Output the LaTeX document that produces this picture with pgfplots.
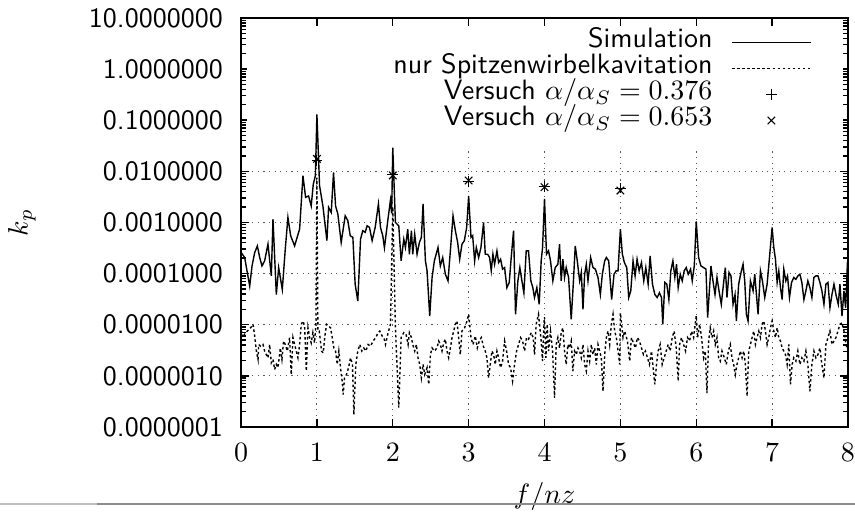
\documentclass[border=0pt]{standalone}
\usepackage{pgfplots}
\pgfplotsset{compat=1.18}
\pgfplotsset{markleg/.style={legend image code/.code={\draw[mark repeat=2,mark phase=2,##1] plot coordinates {(0pt,0pt) (14pt,0pt) (28pt,0pt)};}}}

\begin{document}
\begin{tikzpicture}
\begin{axis}[
  name=ax, at={(0,0)}, anchor=south west,
  width=216.8pt, height=146.1pt, scale only axis,
  ymode=log,
  xmin=0, xmax=8, ymin=1e-7, ymax=10,
  xtick={0,1,...,8},
  ytick={1e-7,1e-6,1e-5,1e-4,1e-3,1e-2,1e-1,1,10},
  yticklabels={0.0000001,0.0000010,0.0000100,0.0001000,0.0010000,0.0100000,0.1000000,1.0000000,10.0000000},
  yticklabel style={font=\sffamily, xshift=-3pt},
  xticklabel style={yshift=-2.5pt},
  tick align=inside,
  major tick length=3pt, minor tick length=1.8pt,
  xtick pos=both, ytick pos=both,
  grid=major,
  major grid style={black!65, line width=0.35pt, dash pattern=on 0.4pt off 1.6pt},
  axis line style={line width=0.7pt},
  every tick/.style={black, line width=0.5pt},
  xlabel={$f/nz$}, ylabel={$k_p$},
  xlabel style={at={(axis description cs:0.5,-0.171)}, anchor=center},
  ylabel style={at={(axis description cs:-0.361,0.5)}, anchor=center},
  legend cell align=right,
  legend plot pos=right,
  legend style={at={(rel axis cs:1,1)}, anchor=north east,
    xshift=-12.9pt, yshift=-3.9pt, draw=none, fill=none,
    inner sep=0pt, row sep=0pt, column sep=6.8pt, font=\sffamily,
    nodes={inner sep=0pt, text height=6.6pt, text depth=2.7pt}},
  legend image code/.code={\draw[#1] (0pt,0pt) -- (28pt,0pt);},
]
% gnuplot key hides the grid behind it
\fill[white] (axis cs:0.08,0.03) rectangle (axis cs:7.93,6.5);

\addplot[black, line width=0.5pt] coordinates {
(0.000,2.6e-4) (0.048,2.06e-4) (0.080,1.1e-4) (0.114,5.7e-5) (0.145,1.41e-4) (0.180,2.58e-4)
(0.215,3.48e-4) (0.246,2.06e-4) (0.276,1.41e-4) (0.311,1.77e-4) (0.355,3.76e-4) (0.399,9.0e-5)
(0.421,1.16e-3) (0.465,3.9e-5) (0.496,1.31e-4) (0.544,4.9e-5) (0.583,3.0e-4) (0.618,1.25e-3)
(0.654,5.5e-4) (0.706,3.48e-4) (0.772,7.4e-4) (0.816,8.2e-3) (0.851,3.1e-3) (0.890,3.3e-3)
(0.925,2.1e-3) (0.952,5.6e-3) (0.980,8.2e-3) (1.000,0.13) (1.035,5.2e-3) (1.079,2.1e-3)
(1.132,4.4e-4) (1.154,1.97e-3) (1.189,1.57e-3) (1.219,9.5e-3) (1.246,2.1e-3) (1.276,1.46e-3)
(1.320,4.06e-4) (1.373,1.35e-3) (1.408,1.08e-3) (1.439,5.5e-4) (1.474,5.1e-4) (1.504,6.2e-5)
(1.539,2.9e-5) (1.575,4.7e-4) (1.605,6.9e-4) (1.636,6.4e-4) (1.662,8.6e-4) (1.693,8.0e-4)
(1.728,4.4e-4) (1.768,8.0e-4) (1.811,2.3e-3) (1.838,8.0e-4) (1.868,5.5e-4) (1.890,3.2e-4)
(1.934,1.08e-3) (1.969,2.7e-3) (1.985,1.5e-3) (2.000,0.029) (2.035,1.0e-3) (2.079,8.6e-4)
(2.110,1.77e-4) (2.145,4.7e-4) (2.167,3.24e-4) (2.197,7.4e-4) (2.219,2.39e-4) (2.246,6.9e-4)
(2.263,2.39e-4) (2.289,5.9e-4) (2.320,2.39e-4) (2.351,4.06e-4) (2.377,5.1e-4) (2.399,2.3e-3)
(2.430,1.77e-4) (2.452,1.13e-4) (2.487,1.48e-5) (2.518,8.4e-5) (2.548,1.77e-4) (2.596,3.24e-4)
(2.627,1.41e-4) (2.658,2.06e-4) (2.693,9.7e-5) (2.728,7.2e-5) (2.759,2.78e-4) (2.794,1.35e-3)
(2.825,6.9e-4) (2.855,4.06e-4) (2.882,1.91e-4) (2.912,3.76e-4) (2.943,4.4e-4) (2.974,8.0e-4)
(3.000,3.3e-3) (3.031,5.1e-4) (3.053,5.5e-4) (3.079,1.77e-4) (3.101,3.24e-4) (3.132,2.06e-4)
(3.162,3.24e-4) (3.197,1.0e-3) (3.219,2.39e-4) (3.250,2.39e-4) (3.276,2.06e-4) (3.298,1.13e-4)
(3.320,2.39e-4) (3.342,1.52e-4) (3.373,2.78e-4) (3.395,1.64e-4) (3.421,1.91e-4) (3.447,1.22e-4)
(3.474,1.31e-4) (3.504,5.3e-5) (3.535,6.7e-5) (3.561,2.06e-4) (3.592,6.9e-4) (3.618,1.6e-5)
(3.649,7.2e-5) (3.675,1.31e-4) (3.702,7.2e-5) (3.728,4.2e-5) (3.759,2.78e-4) (3.789,2.78e-4)
(3.820,7.2e-5) (3.846,5.3e-5) (3.868,3.4e-5) (3.899,5.3e-5) (3.930,2.5e-5) (3.956,1.77e-4)
(3.974,3.2e-4) (4.000,2.9e-3) (4.026,2.39e-4) (4.053,2.78e-4) (4.079,1.77e-4) (4.110,7.2e-5)
(4.141,1.31e-4) (4.176,1.52e-4) (4.198,3.76e-4) (4.220,7.2e-5) (4.242,1.91e-4) (4.264,8.4e-5)
(4.286,1.31e-4) (4.317,8.4e-5) (4.352,1.27e-5) (4.379,6.2e-5) (4.405,3.48e-4) (4.432,1.77e-4)
(4.463,7.2e-5) (4.485,1.05e-4) (4.507,2.0e-5) (4.529,9.7e-5) (4.551,1.52e-4) (4.573,7.2e-5)
(4.608,2.06e-4) (4.639,1.31e-4) (4.670,1.22e-4) (4.705,8.4e-5) (4.736,3.9e-5) (4.762,9.7e-5)
(4.793,1.77e-4) (4.815,2.06e-4) (4.846,1.77e-4) (4.885,3.1e-5) (4.916,9.7e-5) (4.943,1.13e-4)
(4.969,1.13e-4) (5.000,7.4e-4) (5.026,2.39e-4) (5.053,1.64e-4) (5.084,1.31e-4) (5.110,3.4e-5)
(5.137,4.6e-5) (5.167,1.77e-4) (5.194,9.0e-5) (5.220,1.91e-4) (5.247,1.13e-4) (5.278,1.64e-4)
(5.308,7.2e-5) (5.335,1.31e-4) (5.366,6.2e-5) (5.392,2.22e-4) (5.423,6.2e-5) (5.454,3.9e-5)
(5.485,3.4e-5) (5.515,4.2e-5) (5.542,3.4e-5) (5.559,1.02e-5) (5.586,6.7e-5) (5.612,6.2e-5)
(5.639,3.1e-5) (5.665,1.13e-4) (5.692,1.77e-4) (5.718,8.4e-5) (5.740,1.52e-4) (5.762,5.3e-5)
(5.789,9.7e-5) (5.815,7.2e-5) (5.841,1.13e-4) (5.868,1.31e-4) (5.894,9.7e-5) (5.925,1.22e-4)
(5.947,7.2e-5) (5.974,1.41e-4) (6.000,1.05e-3) (6.031,2.06e-4) (6.062,1.41e-4) (6.097,1.31e-4)
(6.128,1.22e-4) (6.150,1.37e-5) (6.194,1.41e-4) (6.220,7.2e-5) (6.247,3.9e-5) (6.273,8.4e-5)
(6.300,4.6e-5) (6.330,2.5e-5) (6.361,6.7e-5) (6.383,1.31e-4) (6.405,3.4e-5) (6.432,1.05e-4)
(6.458,9.0e-5) (6.485,2.5e-5) (6.511,3.9e-5) (6.529,1.18e-5) (6.559,6.2e-5) (6.590,1.05e-4)
(6.617,1.52e-4) (6.639,7.2e-5) (6.661,1.6e-5) (6.683,1.18e-5) (6.714,7.2e-5) (6.749,4.6e-5)
(6.771,9.7e-5) (6.793,3.9e-5) (6.815,1.6e-5) (6.846,1.13e-4) (6.872,7.2e-5) (6.903,3.4e-5)
(6.934,6.2e-5) (6.969,2.39e-4) (7.000,8.0e-4) (7.022,3.24e-4) (7.044,1.91e-4) (7.066,6.7e-5)
(7.088,1.13e-4) (7.110,5.3e-5) (7.132,3.1e-5) (7.154,1.22e-4) (7.181,7.2e-5) (7.203,9.0e-5)
(7.229,3.4e-5) (7.256,6.7e-5) (7.286,8.4e-5) (7.313,7.7e-5) (7.339,9.0e-5) (7.366,9.7e-5)
(7.392,6.7e-5) (7.419,3.1e-5) (7.445,4.6e-5) (7.471,7.2e-5) (7.498,5.3e-5) (7.524,3.4e-5)
(7.551,8.4e-5) (7.577,9.0e-5) (7.604,9.0e-5) (7.630,6.7e-5) (7.656,4.6e-5) (7.683,2.5e-5)
(7.709,6.2e-5) (7.736,6.7e-5) (7.762,2.15e-5) (7.789,3.9e-5) (7.815,6.2e-5) (7.846,3.6e-5)
(7.872,2.5e-5) (7.894,6.2e-5) (7.921,1.48e-5) (7.947,4.6e-5) (7.969,2.15e-5) (7.991,1.41e-4)
(8.000,1.3e-4)
};
\addlegendentry{Simulation}

\addplot[black, line width=0.5pt, dash pattern=on 0.9pt off 0.9pt] coordinates {
(0.000,8.0e-6) (0.026,5.6e-6) (0.057,7.0e-6) (0.083,7.5e-6) (0.127,8.7e-6) (0.158,1.02e-5)
(0.180,6.0e-6) (0.202,3.05e-6) (0.224,2.1e-6) (0.232,4.1e-6) (0.259,3.8e-6) (0.289,4.1e-6)
(0.311,3.05e-6) (0.333,2.6e-6) (0.355,2.25e-6) (0.377,4.1e-6) (0.399,1.8e-6) (0.421,2.1e-6)
(0.443,1.33e-6) (0.465,1.67e-6) (0.487,1.44e-6) (0.518,3.5e-6) (0.539,2.1e-6) (0.561,4.8e-6)
(0.583,4.1e-6) (0.610,3.05e-6) (0.640,5.6e-6) (0.662,1.06e-6) (0.684,5.6e-6) (0.706,4.1e-6)
(0.728,3.05e-6) (0.750,2.25e-6) (0.772,4.1e-6) (0.794,1.02e-5) (0.816,1.18e-5) (0.838,9.4e-6)
(0.860,1.24e-6) (0.882,8.7e-6) (0.904,5.6e-6) (0.925,4.4e-6) (0.947,7.0e-6) (0.969,4.4e-6)
(0.987,1.02e-5) (1.000,7.5e-3) (1.013,7.5e-6) (1.031,7.5e-6) (1.061,3.05e-6) (1.083,2.8e-6)
(1.105,6.0e-6) (1.127,1.02e-5) (1.154,9.4e-6) (1.180,8.7e-6) (1.202,5.6e-6) (1.224,3.5e-6)
(1.246,3.05e-6) (1.268,1.67e-6) (1.289,3.05e-6) (1.311,1.44e-6) (1.333,7.9e-7) (1.346,4.3e-7)
(1.364,9.1e-7) (1.390,1.06e-6) (1.417,1.44e-6) (1.443,2.25e-6) (1.469,1.67e-6) (1.487,1.75e-7)
(1.513,1.67e-6) (1.539,3.05e-6) (1.566,4.1e-6) (1.592,3.05e-6) (1.618,3.5e-6) (1.645,3.05e-6)
(1.675,4.1e-6) (1.706,3.8e-6) (1.741,4.8e-6) (1.776,5.6e-6) (1.807,7.0e-6) (1.829,7.5e-6)
(1.860,6.0e-6) (1.882,5.6e-6) (1.904,4.1e-6) (1.939,7.0e-6) (1.970,1.02e-5) (2.000,2.0e-3)
(2.035,8.7e-6) (2.079,2.4e-7) (2.110,5.6e-6) (2.145,7.0e-6) (2.175,6.5e-6) (2.202,4.1e-6)
(2.219,7.0e-6) (2.246,5.6e-6) (2.263,4.1e-6) (2.289,3.05e-6) (2.311,4.1e-6) (2.333,2.25e-6)
(2.355,1.67e-6) (2.377,9.1e-7) (2.399,1.67e-6) (2.421,1.06e-6) (2.452,1.44e-6) (2.474,6.8e-7)
(2.496,2.6e-6) (2.518,3.5e-6) (2.548,3.05e-6) (2.583,3.5e-6) (2.605,4.8e-6) (2.627,4.1e-6)
(2.649,3.05e-6) (2.671,4.4e-6) (2.693,5.2e-6) (2.715,3.05e-6) (2.737,2.25e-6) (2.759,3.5e-6)
(2.781,5.6e-6) (2.803,7.5e-6) (2.825,1.02e-5) (2.846,1.18e-5) (2.868,5.6e-6) (2.890,2.6e-6)
(2.912,7.5e-6) (2.947,8.7e-6) (2.978,1.18e-5) (3.000,1.6e-5) (3.031,5.6e-6) (3.057,4.1e-6)
(3.088,6.0e-6) (3.114,3.5e-6) (3.140,4.8e-6) (3.167,5.6e-6) (3.193,3.8e-6) (3.219,3.05e-6)
(3.241,2.25e-6) (3.263,9.1e-7) (3.285,1.67e-6) (3.307,3.05e-6) (3.329,2.6e-6) (3.351,1.67e-6)
(3.373,3.05e-6) (3.395,2.25e-6) (3.421,1.44e-6) (3.447,1.94e-6) (3.474,4.8e-6) (3.500,3.05e-6)
(3.526,1.67e-6) (3.553,1.44e-6) (3.579,7.9e-7) (3.605,1.67e-6) (3.632,3.05e-6) (3.658,4.1e-6)
(3.684,5.6e-6) (3.711,4.8e-6) (3.737,3.05e-6) (3.763,5.6e-6) (3.789,5.2e-6) (3.825,7.0e-6)
(3.851,5.6e-6) (3.868,2.6e-6) (3.890,1.02e-5) (3.921,1.6e-5) (3.956,4.8e-6) (3.974,1.94e-6)
(3.991,1.02e-5) (4.000,1.4e-5) (4.018,2.25e-6) (4.035,1.02e-5) (4.053,3.05e-6) (4.079,7.5e-6)
(4.106,3.05e-6) (4.132,3.7e-7) (4.154,4.1e-6) (4.176,5.6e-6) (4.198,3.5e-6) (4.220,7.0e-6)
(4.242,8.7e-6) (4.264,3.05e-6) (4.286,1.67e-6) (4.308,4.1e-6) (4.330,3.5e-6) (4.352,4.8e-6)
(4.374,1.24e-6) (4.396,3.05e-6) (4.419,2.6e-6) (4.441,3.5e-6) (4.463,3.05e-6) (4.485,2.25e-6)
(4.507,4.1e-6) (4.529,1.67e-6) (4.551,1.24e-6) (4.573,3.05e-6) (4.595,1.94e-6) (4.617,4.1e-6)
(4.639,2.6e-6) (4.661,3.5e-6) (4.683,1.67e-6) (4.705,4.1e-6) (4.727,3.05e-6) (4.749,2.25e-6)
(4.771,5.0e-7) (4.793,2.6e-6) (4.815,5.6e-6) (4.837,7.5e-6) (4.859,4.1e-6) (4.881,1.02e-5)
(4.903,1.6e-5) (4.925,7.5e-6) (4.947,5.6e-6) (4.969,3.05e-6) (4.991,1.67e-6) (5.000,1.7e-5)
(5.035,5.6e-6) (5.057,7.5e-6) (5.093,4.8e-6) (5.123,1.94e-6) (5.145,5.6e-6) (5.172,4.4e-6)
(5.198,3.5e-6) (5.225,5.6e-6) (5.251,4.8e-6) (5.278,3.5e-6) (5.304,2.6e-6) (5.330,3.05e-6)
(5.357,2.25e-6) (5.383,1.67e-6) (5.410,3.05e-6) (5.436,1.24e-6) (5.454,6.8e-7) (5.476,1.67e-6)
(5.498,3.05e-6) (5.524,4.1e-6) (5.551,1.67e-6) (5.577,2.25e-6) (5.604,3.05e-6) (5.630,4.1e-6)
(5.656,3.05e-6) (5.683,5.6e-6) (5.709,7.5e-6) (5.736,3.5e-6) (5.762,7.9e-7) (5.780,4.1e-6)
(5.806,5.6e-6) (5.833,4.1e-6) (5.859,3.05e-6) (5.885,5.6e-6) (5.912,4.8e-6) (5.938,7.5e-6)
(5.965,5.6e-6) (5.991,1.18e-5) (6.000,1.5e-5) (6.018,5.6e-6) (6.044,1.02e-5) (6.070,5.6e-6)
(6.097,2.25e-6) (6.119,3.05e-6) (6.141,4.6e-7) (6.163,4.8e-6) (6.185,8.7e-6) (6.207,5.6e-6)
(6.229,7.5e-6) (6.251,4.1e-6) (6.273,5.6e-6) (6.295,2.25e-6) (6.317,1.94e-6) (6.339,3.05e-6)
(6.370,2.25e-6) (6.396,1.67e-6) (6.423,3.05e-6) (6.449,4.1e-6) (6.471,2.25e-6) (6.493,1.67e-6)
(6.515,1.06e-6) (6.537,1.67e-6) (6.559,2.25e-6) (6.581,3.05e-6) (6.604,2.25e-6) (6.626,3.05e-6)
(6.648,1.67e-6) (6.670,4.0e-7) (6.692,3.05e-6) (6.714,4.1e-6) (6.736,5.6e-6) (6.758,7.5e-6)
(6.780,4.1e-6) (6.802,5.6e-6) (6.824,7.5e-6) (6.846,5.6e-6) (6.868,1.02e-5) (6.890,1.18e-5)
(6.912,7.5e-6) (6.934,4.1e-6) (6.956,5.6e-6) (6.978,8.7e-6) (7.000,1.18e-5) (7.022,7.5e-6)
(7.044,5.6e-6) (7.066,8.7e-6) (7.088,5.6e-6) (7.110,4.8e-6) (7.132,3.5e-6) (7.154,3.05e-6)
(7.176,2.6e-6) (7.198,1.67e-6) (7.220,4.1e-6) (7.242,6.8e-7) (7.264,1.67e-6) (7.286,2.25e-6)
(7.313,1.94e-6) (7.339,3.05e-6) (7.366,1.67e-6) (7.392,2.25e-6) (7.419,1.94e-6) (7.445,3.05e-6)
(7.471,1.67e-6) (7.498,5.0e-7) (7.524,1.67e-6) (7.551,3.05e-6) (7.577,2.25e-6) (7.604,2.6e-6)
(7.630,3.5e-6) (7.656,1.67e-6) (7.683,9.1e-7) (7.709,4.1e-6) (7.736,5.6e-6) (7.762,7.5e-6)
(7.789,4.1e-6) (7.815,4.8e-6) (7.841,5.6e-6) (7.868,7.5e-6) (7.894,1.02e-5) (7.921,1.09e-5)
(7.947,7.5e-6) (7.974,4.1e-6) (8.000,3.05e-6)
};
\addlegendentry{nur Spitzenwirbelkavitation}

\addplot[only marks, mark=+, mark size=1.9pt, black, line width=0.4pt, markleg]
  coordinates {(1,0.0165) (2,0.0088) (3,0.0064) (4,0.0051) (5,0.0047)};
\addlegendentry{Versuch $\alpha/\alpha_S=0.376$}

\addplot[only marks, mark=x, mark size=1.9pt, black, line width=0.4pt, markleg]
  coordinates {(1,0.0175) (2,0.0083) (3,0.0066) (4,0.0049) (5,0.0042)};
\addlegendentry{Versuch $\alpha/\alpha_S=0.653$}
\end{axis}
% thin rule at the foot of the page in the reference
\draw[black!25, line width=0.5pt] (-86.1pt,-27.5pt) -- (-51.4pt,-27.5pt);
\draw[black!45, line width=0.5pt] (-51.4pt,-27.5pt) -- (219.3pt,-27.5pt);
\pgfresetboundingbox
\path[use as bounding box] (-86.1pt,-30.7pt) rectangle (219.3pt,152.5pt);
\end{tikzpicture}
\end{document}
